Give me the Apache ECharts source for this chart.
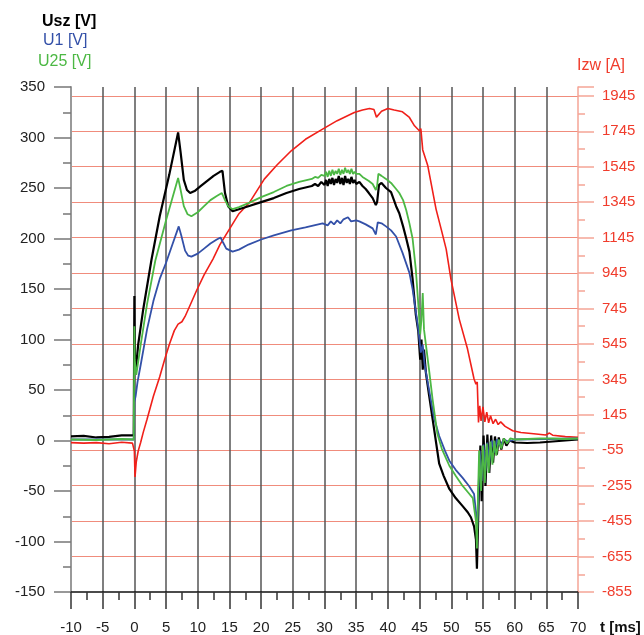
<!DOCTYPE html>
<html>
<head>
<meta charset="utf-8">
<script src="https://cdn.jsdelivr.net/npm/echarts@6/dist/echarts.min.js"></script>
<style>
html,body{margin:0;padding:0;background:#fff;}
#chart{width:644px;height:635px;}
</style>
</head>
<body>
<div id="chart"></div>
<script>
// ---- tick settings ----
const tMin = -10, tMax = 70, tStep = 5;
const vMin = -150, vMax = 350, vStep = 50;
const iMin = -855, iMax = 1995, iStep = 200;

// ---- Usz [V] (black) ----
const uszT = [-10,-8,-6,-4,-2,-0.1,0,0.05,0.2,0.6,1.4,2.7,4,5.5,6.9,7.3,7.8,8.3,8.8,9.5,10.5,11.5,12.5,13.5,13.9,14.3,14.8,15.5,16.5,18,20,22,24,26,28,28.5,29,29.5,30,30.25,30.5,30.75,31,31.25,31.5,31.75,32,32.25,32.5,32.75,33,33.25,33.5,33.75,34,34.25,34.5,34.75,35,35.5,36,36.5,37,37.6,38.1,38.3,38.6,39,39.7,40.5,41.3,41.8,42.4,42.9,43.4,43.9,44.4,44.8,45.1,45.3,45.5,45.7,46,46.5,47.3,48.1,48.8,49.7,50.7,51.8,52.6,53.1,53.6,53.9,54.05,54.2,54.4,54.6,54.8,55.1,55.4,55.7,56,56.3,56.6,56.9,57.2,57.5,57.9,58.3,58.7,59.2,60,62,64,66,68,70];
const uszV = [4,4.5,3,3.5,5,5,143,90,68,95,130,179,222,263,305,285,258,248,245,247,252,257,262,266,267,245,232,227,229,232,236,240,245,249,252,254,252,256,253,258,252,259,254,260,253,259,255,262,254,260,253,262,255,259,254,261,255,258,254,256,252,249,245,240,233,236,253,255,250,246,232,225,212,200,187,160,125,108,80,100,70,90,67,45,11,-23,-35,-48,-57,-65,-71,-76,-85,-98,-127,-90,-40,-5,-60,5,-45,6,-32,5,-22,4,-14,3,-9,2,-5,0,-2,-2.5,-2,-1,0,1];

// ---- U1 [V] (blue) ----
const u1T = [-10,-6,-2,-0.1,0,0.2,0.5,1,2,3,4,5,6,7,7.4,8,8.5,9,10,11,12,13,13.6,14,14.5,15.5,16.5,18,20,22,24.75,27,29.7,30.5,31,31.5,32,32.5,33,33.7,34.2,35,35.5,36.5,37.6,38.1,38.4,39,39.7,40.5,41.3,42.3,43.4,43.9,44.4,44.8,45.2,45.5,45.8,46.5,47.3,48.1,49,49.7,50.7,51.8,52.8,53.6,53.9,54.1,54.3,54.5,54.8,55.1,55.4,55.7,56,56.4,56.8,57.2,57.7,58.3,59,60,65,70];
const u1V = [1,1,1,1,38,44,58,75,110,138,160,176,194,212,203,188,183,182,185,190,195,199,201,196,190,187,189,194,199,203,208,211,215,213,217,214,218,215,219,221,217,218,217,214,210,204,216,215,212,208,202,186,166,150,128,110,87,95,75,50,22,4.5,-10,-20,-29,-37,-45,-53,-71,-88,-50,-10,-40,-4,-30,-2,-22,0,-12,1,-5,1,-1,1,1.5,2];

// ---- U25 [V] (green) ----
const u25T = [-10,-6,-2,-0.1,0,0.05,0.3,1,2,3.3,5,6,6.9,7.3,7.8,8.4,9,10,11,12,13,13.8,14.3,14.8,15.5,16.5,18,20,22,24,26,28,28.5,29,29.5,30,30.25,30.5,30.75,31,31.25,31.5,31.75,32,32.25,32.5,32.75,33,33.25,33.5,33.75,34,34.25,34.5,34.75,35,35.5,36,36.5,37,37.6,38.1,38.3,38.5,39,39.7,40.5,41.3,41.8,42.4,42.9,43.4,43.9,44.4,44.8,45.1,45.3,45.5,45.7,46,46.5,47.05,47.8,48.5,49.2,49.7,50.7,51.8,52.6,53.4,53.9,54.05,54.2,54.4,54.7,55,55.3,55.6,55.9,56.2,56.5,56.8,57.1,57.5,57.9,58.3,58.8,59.3,60,62,64,66,68,70];
const u25V = [1,0.5,1.5,1,113,80,65,95,135,178,218,240,260,248,232,224,222,226,232,238,242,245,238,232,229,231,235,241,246,252,256,259,261,260,263,262,266,261,267,262,268,263,267,264,269,263,268,264,270,265,268,264,269,264,266,264,264,261,259,257,254,248,252,264,262,259,255,249,245,238,228,215,200,170,135,105,120,146,110,95,70,41,7,-8,-18,-25,-35,-45,-51,-57,-80,-107,-60,-10,-50,-5,-42,-3,-32,-1,-24,0,-15,1,-8,2,-3,2,1,1.5,2,2,1.5,2];

// ---- Izw [A] (red) ----
const izwT = [-10,-8,-6,-4,-2,-0.3,0,0.1,0.3,0.6,1,1.4,2,3,4,4.8,5.5,6.3,6.9,7.5,8,9,9.8,11,12.4,13.5,15,16.5,18.2,20.5,22.5,24.75,27,29.7,32,34.7,36,37.1,37.8,38.2,38.4,39,40,41,42.3,43.4,44.2,45,45.2,45.5,46.3,47.6,48.5,49.2,49.95,51.26,52.57,53.6,53.9,54.1,54.3,54.5,54.7,55,55.3,55.6,55.9,56.2,56.6,57,57.4,57.8,58.5,59.7,61,63,64.9,65.5,66,68,70];
const izwV = [-12,-15,-12,-18,-10,-15,-60,-206,-120,-60,-10,46,120,250,360,460,540,620,657,670,700,780,845,935,1024,1105,1193,1280,1345,1475,1555,1635,1700,1757,1805,1851,1865,1874,1868,1825,1832,1858,1874,1865,1855,1823,1776,1747,1760,1640,1550,1306,1180,1080,911,685,516,347,318,330,102,196,110,190,105,160,100,140,95,120,90,105,80,55,45,38,31,42,30,22,18];

const pairs = (ts, vs) => ts.map((t, i) => [t, vs[i]]);

const FONT = '"Liberation Sans", Arial, sans-serif';
const RED = '#f03c2c';
const RED_GRID = '#f08c7c';

const chart = echarts.init(document.getElementById('chart'), null, {renderer: 'canvas'});
chart.setOption({
  animation: false,
  backgroundColor: '#fff',
  grid: {left: 71, right: 66, top: 87, bottom: 42, containLabel: false},
  xAxis: {
    type: 'value', min: tMin, max: tMax, interval: tStep,
    axisLine: {show: true, onZero: false, lineStyle: {color: '#111', width: 1.5}},
    axisTick: {show: true, length: 17, lineStyle: {color: '#333', width: 1.5}},
    minorTick: {show: true, splitNumber: 2, length: 8, lineStyle: {color: '#333', width: 1.5}},
    axisLabel: {margin: 28, color: '#222', fontSize: 15, fontFamily: FONT},
    splitLine: {show: true, showMinLine: false, showMaxLine: false, lineStyle: {color: '#555', width: 1.5}}
  },
  yAxis: [{
    type: 'value', min: vMin, max: vMax, interval: vStep,
    axisLine: {show: true, onZero: false, lineStyle: {color: '#999', width: 2}},
    axisTick: {show: true, length: 17, lineStyle: {color: '#777', width: 1.5}},
    minorTick: {show: true, splitNumber: 2, length: 8, lineStyle: {color: '#777', width: 1.5}},
    axisLabel: {margin: 26, color: '#222', fontSize: 15, fontFamily: FONT},
    splitLine: {show: false}
  }, {
    type: 'value', min: iMin, max: iMax, interval: iStep, position: 'right',
    axisLine: {show: true, onZero: false, lineStyle: {color: '#f5a596', width: 1.5}},
    axisTick: {show: true, length: 16, lineStyle: {color: '#f5a596', width: 1.5}},
    minorTick: {show: true, splitNumber: 2, length: 7, lineStyle: {color: '#f5a596', width: 1.5}},
    axisLabel: {margin: 24, color: RED, fontSize: 15, fontFamily: FONT,
      formatter: v => ((v - iMin) % iStep === 0 ? String(v) : '')},
    splitLine: {show: true, showMinLine: false, showMaxLine: false, lineStyle: {color: RED_GRID, width: 1.2}}
  }],
  series: [
    {name: 'Izw [A]', type: 'line', yAxisIndex: 1, showSymbol: false, data: pairs(izwT, izwV),
     lineStyle: {color: '#f0201a', width: 1.6}, itemStyle: {color: '#f0201a'}},
    {name: 'Usz [V]', type: 'line', showSymbol: false, data: pairs(uszT, uszV),
     lineStyle: {color: '#000', width: 2.2}, itemStyle: {color: '#000'}},
    {name: 'U1 [V]', type: 'line', showSymbol: false, data: pairs(u1T, u1V),
     lineStyle: {color: '#3350a8', width: 1.8}, itemStyle: {color: '#3350a8'}},
    {name: 'U25 [V]', type: 'line', showSymbol: false, data: pairs(u25T, u25V),
     lineStyle: {color: '#4cb844', width: 1.8}, itemStyle: {color: '#4cb844'}}
  ],
  graphic: [
    {type: 'text', left: 42, top: 14, style: {text: 'Usz [V]', fill: '#000', font: 'bold 16px ' + FONT}},
    {type: 'text', left: 43, top: 33, style: {text: 'U1 [V]', fill: '#3350a8', font: '16px ' + FONT}},
    {type: 'text', left: 38, top: 54, style: {text: 'U25 [V]', fill: '#4cb844', font: '16px ' + FONT}},
    {type: 'text', left: 577, top: 58, style: {text: 'Izw [A]', fill: RED, font: '16px ' + FONT}},
    {type: 'text', left: 600, top: 620, style: {text: 't [ms]', fill: '#111', font: 'bold 15px ' + FONT}}
  ]
});
</script>
</body>
</html>
